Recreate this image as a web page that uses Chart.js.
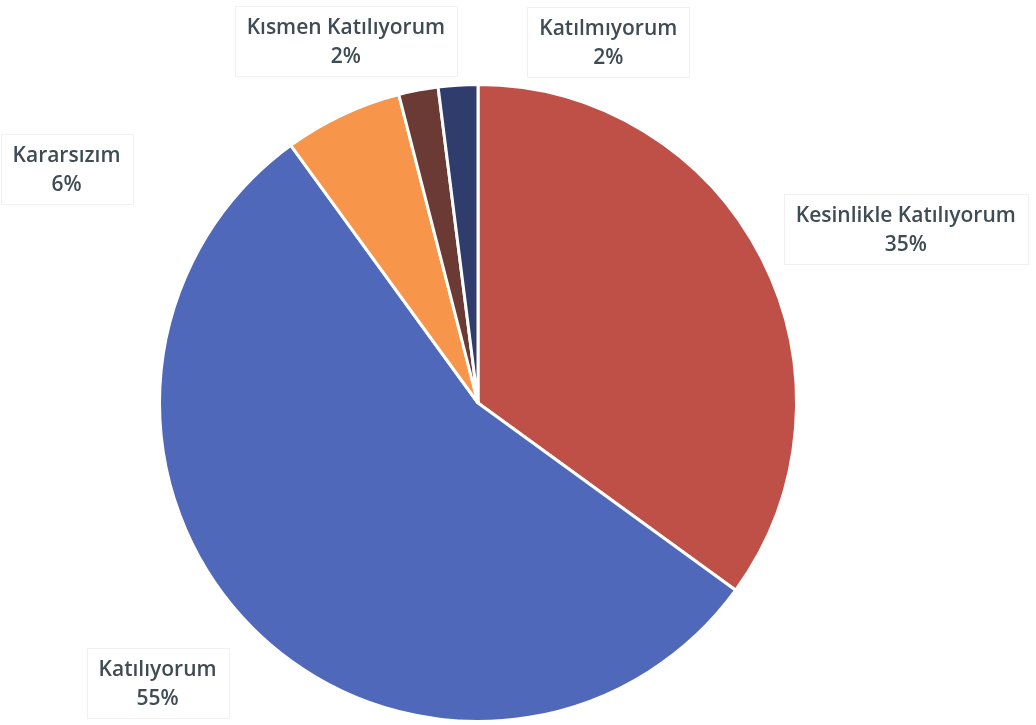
<!DOCTYPE html>
<html>
<head>
<meta charset="utf-8">
<script src="https://cdn.jsdelivr.net/npm/chart.js@4/dist/chart.umd.min.js"></script>
<style>
    html, body { margin: 0; padding: 0; background: #fff; }
    #wrap { width: 1036px; height: 725px; }
</style>
</head>
<body>
<div id="wrap"><canvas id="pieChart" width="1036" height="725"></canvas></div>
<script>
const categories = ['Kesinlikle Katılıyorum', 'Katılıyorum', 'Kararsızım', 'Kısmen Katılıyorum', 'Katılmıyorum'];
const shares = [35, 55, 6, 2, 2];
const sliceColors = ['#BE5047', '#5068BA', '#F7954A', '#6B3A35', '#2F3C6C'];

// label placement relative to pie centre, in radius units
const labelOffsets = [
    { dx: 1.343, dy: -0.544 },
    { dx: -1.006, dy: 0.881 },
    { dx: -1.292, dy: -0.733 },
    { dx: -0.415, dy: -1.134 },
    { dx: 0.409, dy: -1.129 }
];

const labelPlugin = {
    id: 'sliceLabels',
    afterDatasetsDraw(chart) {
        const { ctx } = chart;
        const arcs = chart.getDatasetMeta(0).data;
        if (!arcs.length) return;
        const cx = arcs[0].x, cy = arcs[0].y, r = arcs[0].outerRadius;
        ctx.save();
        ctx.textAlign = 'center';
        ctx.textBaseline = 'middle';
        ctx.font = '600 21px "Open Sans", Lato, sans-serif';
        categories.forEach((name, i) => {
            const x = cx + labelOffsets[i].dx * r;
            const y = cy + labelOffsets[i].dy * r;
            const w = ctx.measureText(name).width + 24;
            ctx.strokeStyle = '#f1f1f1';
            ctx.lineWidth = 1;
            ctx.strokeRect(Math.round(x - w / 2) + 0.5, Math.round(y - 36) + 0.5, Math.round(w), 70);
            ctx.fillStyle = '#3f4c53';
            ctx.fillText(name, x, y - 14);
            ctx.fillText(shares[i] + '%', x, y + 15);
        });
        ctx.restore();
    }
};

document.addEventListener('DOMContentLoaded', () => {
    const ctx = document.getElementById('pieChart');
    new Chart(ctx, {
        type: 'pie',
        data: {
            labels: categories,
            datasets: [{
                data: shares,
                backgroundColor: sliceColors,
                borderColor: '#ffffff',
                borderWidth: 3
            }]
        },
        options: {
            responsive: false,
            animation: false,
            layout: { padding: { top: 83, bottom: 2, left: 0, right: 80 } },
            plugins: {
                legend: { display: false },
                tooltip: { enabled: false }
            }
        },
        plugins: [labelPlugin]
    });
});
</script>
</body>
</html>
